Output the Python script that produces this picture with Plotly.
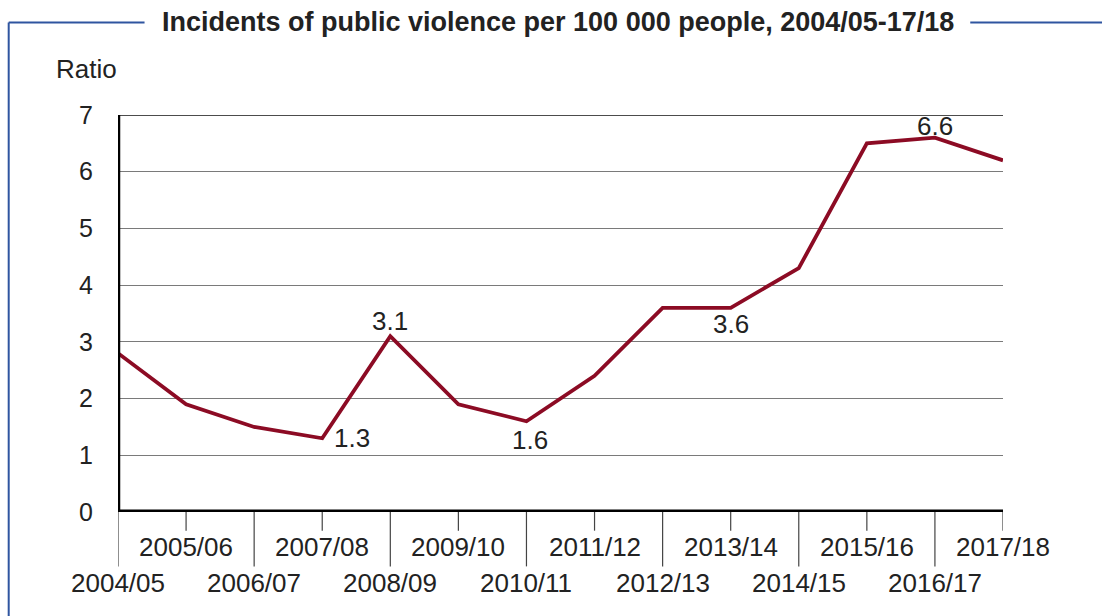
import plotly.graph_objects as go

years = ["2004/05", "2005/06", "2006/07", "2007/08", "2008/09", "2009/10", "2010/11",
         "2011/12", "2012/13", "2013/14", "2014/15", "2015/16", "2016/17", "2017/18"]
ratio = [2.8, 1.9, 1.5, 1.3, 3.1, 1.9, 1.6, 2.4, 3.6, 3.6, 4.3, 6.5, 6.6, 6.2]
y_ticks = [0, 1, 2, 3, 4, 5, 6, 7]
labelled = {3: (30, 0), 4: (0, 15), 6: (4, -19), 9: (0, -16), 12: (0, 12)}

FONT = "Liberation Sans, Arial, Helvetica, sans-serif"
LINE = "#8c0b24"
BLUE = "#2f55a0"
TXT = "#222222"
FS = 26

xs = list(range(len(years)))

fig = go.Figure()
fig.add_trace(go.Scatter(x=xs, y=ratio, mode="lines",
                         line=dict(color=LINE, width=3.8), hoverinfo="skip",
                         showlegend=False, cliponaxis=False))

shapes = []
annotations = []

# staggered x tick lines and labels
for i, lab in enumerate(years):
    long = (i % 2 == 0)
    shapes.append(dict(type="line", xref="x", yref="paper", x0=i, x1=i,
                       y0=0, y1=-0.137 if long else -0.047,
                       line=dict(color="#444444", width=1.2)))
    annotations.append(dict(x=i, xref="x", yref="paper",
                            y=-0.18 if long else -0.088,
                            text=lab, showarrow=False, yanchor="middle",
                            font=dict(family=FONT, size=FS, color=TXT)))

# top gridline (black)
shapes.append(dict(type="line", xref="x", yref="y", x0=0, x1=len(years) - 1,
                   y0=7, y1=7, line=dict(color="#111111", width=1.5)))
# y axis thick line
shapes.append(dict(type="line", xref="x", yref="y", x0=0, x1=0,
                   y0=0, y1=7, line=dict(color="#000000", width=4.5)))
# x axis thick line
shapes.append(dict(type="line", xref="x", yref="y", x0=0, x1=len(years) - 1,
                   y0=0, y1=0, line=dict(color="#000000", width=5)))

# data labels
for i, (dx, dy) in labelled.items():
    v = ratio[i]
    annotations.append(dict(x=i, y=v, xref="x", yref="y", text=f"{v}", showarrow=False,
                            xshift=dx, yshift=dy, yanchor="middle",
                            font=dict(family=FONT, size=FS, color=TXT)))

# frame border (blue), with gap for title
TOP = 1.233
shapes.append(dict(type="line", xref="paper", yref="paper", x0=-0.1235, x1=-0.1235,
                   y0=TOP, y1=-0.3, line=dict(color=BLUE, width=2)))
shapes.append(dict(type="line", xref="paper", yref="paper", x0=-0.1235, x1=0.030,
                   y0=TOP, y1=TOP, line=dict(color=BLUE, width=2)))
shapes.append(dict(type="line", xref="paper", yref="paper", x0=0.963, x1=1.12,
                   y0=TOP, y1=TOP, line=dict(color=BLUE, width=2)))

annotations.append(dict(x=0.497, y=TOP, xref="paper", yref="paper",
                        text="<b>Incidents of public violence per 100 000 people, 2004/05-17/18</b>",
                        showarrow=False, xanchor="center", yanchor="middle",
                        font=dict(family=FONT, size=27, color=TXT)))
annotations.append(dict(x=-0.036, y=1.115, xref="paper", yref="paper", text="Ratio",
                        showarrow=False, xanchor="center", yanchor="middle",
                        font=dict(family=FONT, size=26, color=TXT)))

fig.update_layout(
    width=1102, height=616,
    margin=dict(l=118, r=99, t=115, b=104),
    paper_bgcolor="white", plot_bgcolor="white",
    showlegend=False,
    shapes=shapes, annotations=annotations,
    xaxis=dict(range=[0, len(years) - 1], showgrid=False, zeroline=False,
               showticklabels=False, ticks="", showline=False, fixedrange=True),
    yaxis=dict(range=[0, 7], tickvals=y_ticks, showgrid=True, gridcolor="#7a7a7a",
               gridwidth=1, zeroline=False, showline=False, ticks="",
               ticklabelstandoff=24,
               tickfont=dict(family=FONT, size=25, color=TXT), fixedrange=True),
)

fig.write_html("out.html")
